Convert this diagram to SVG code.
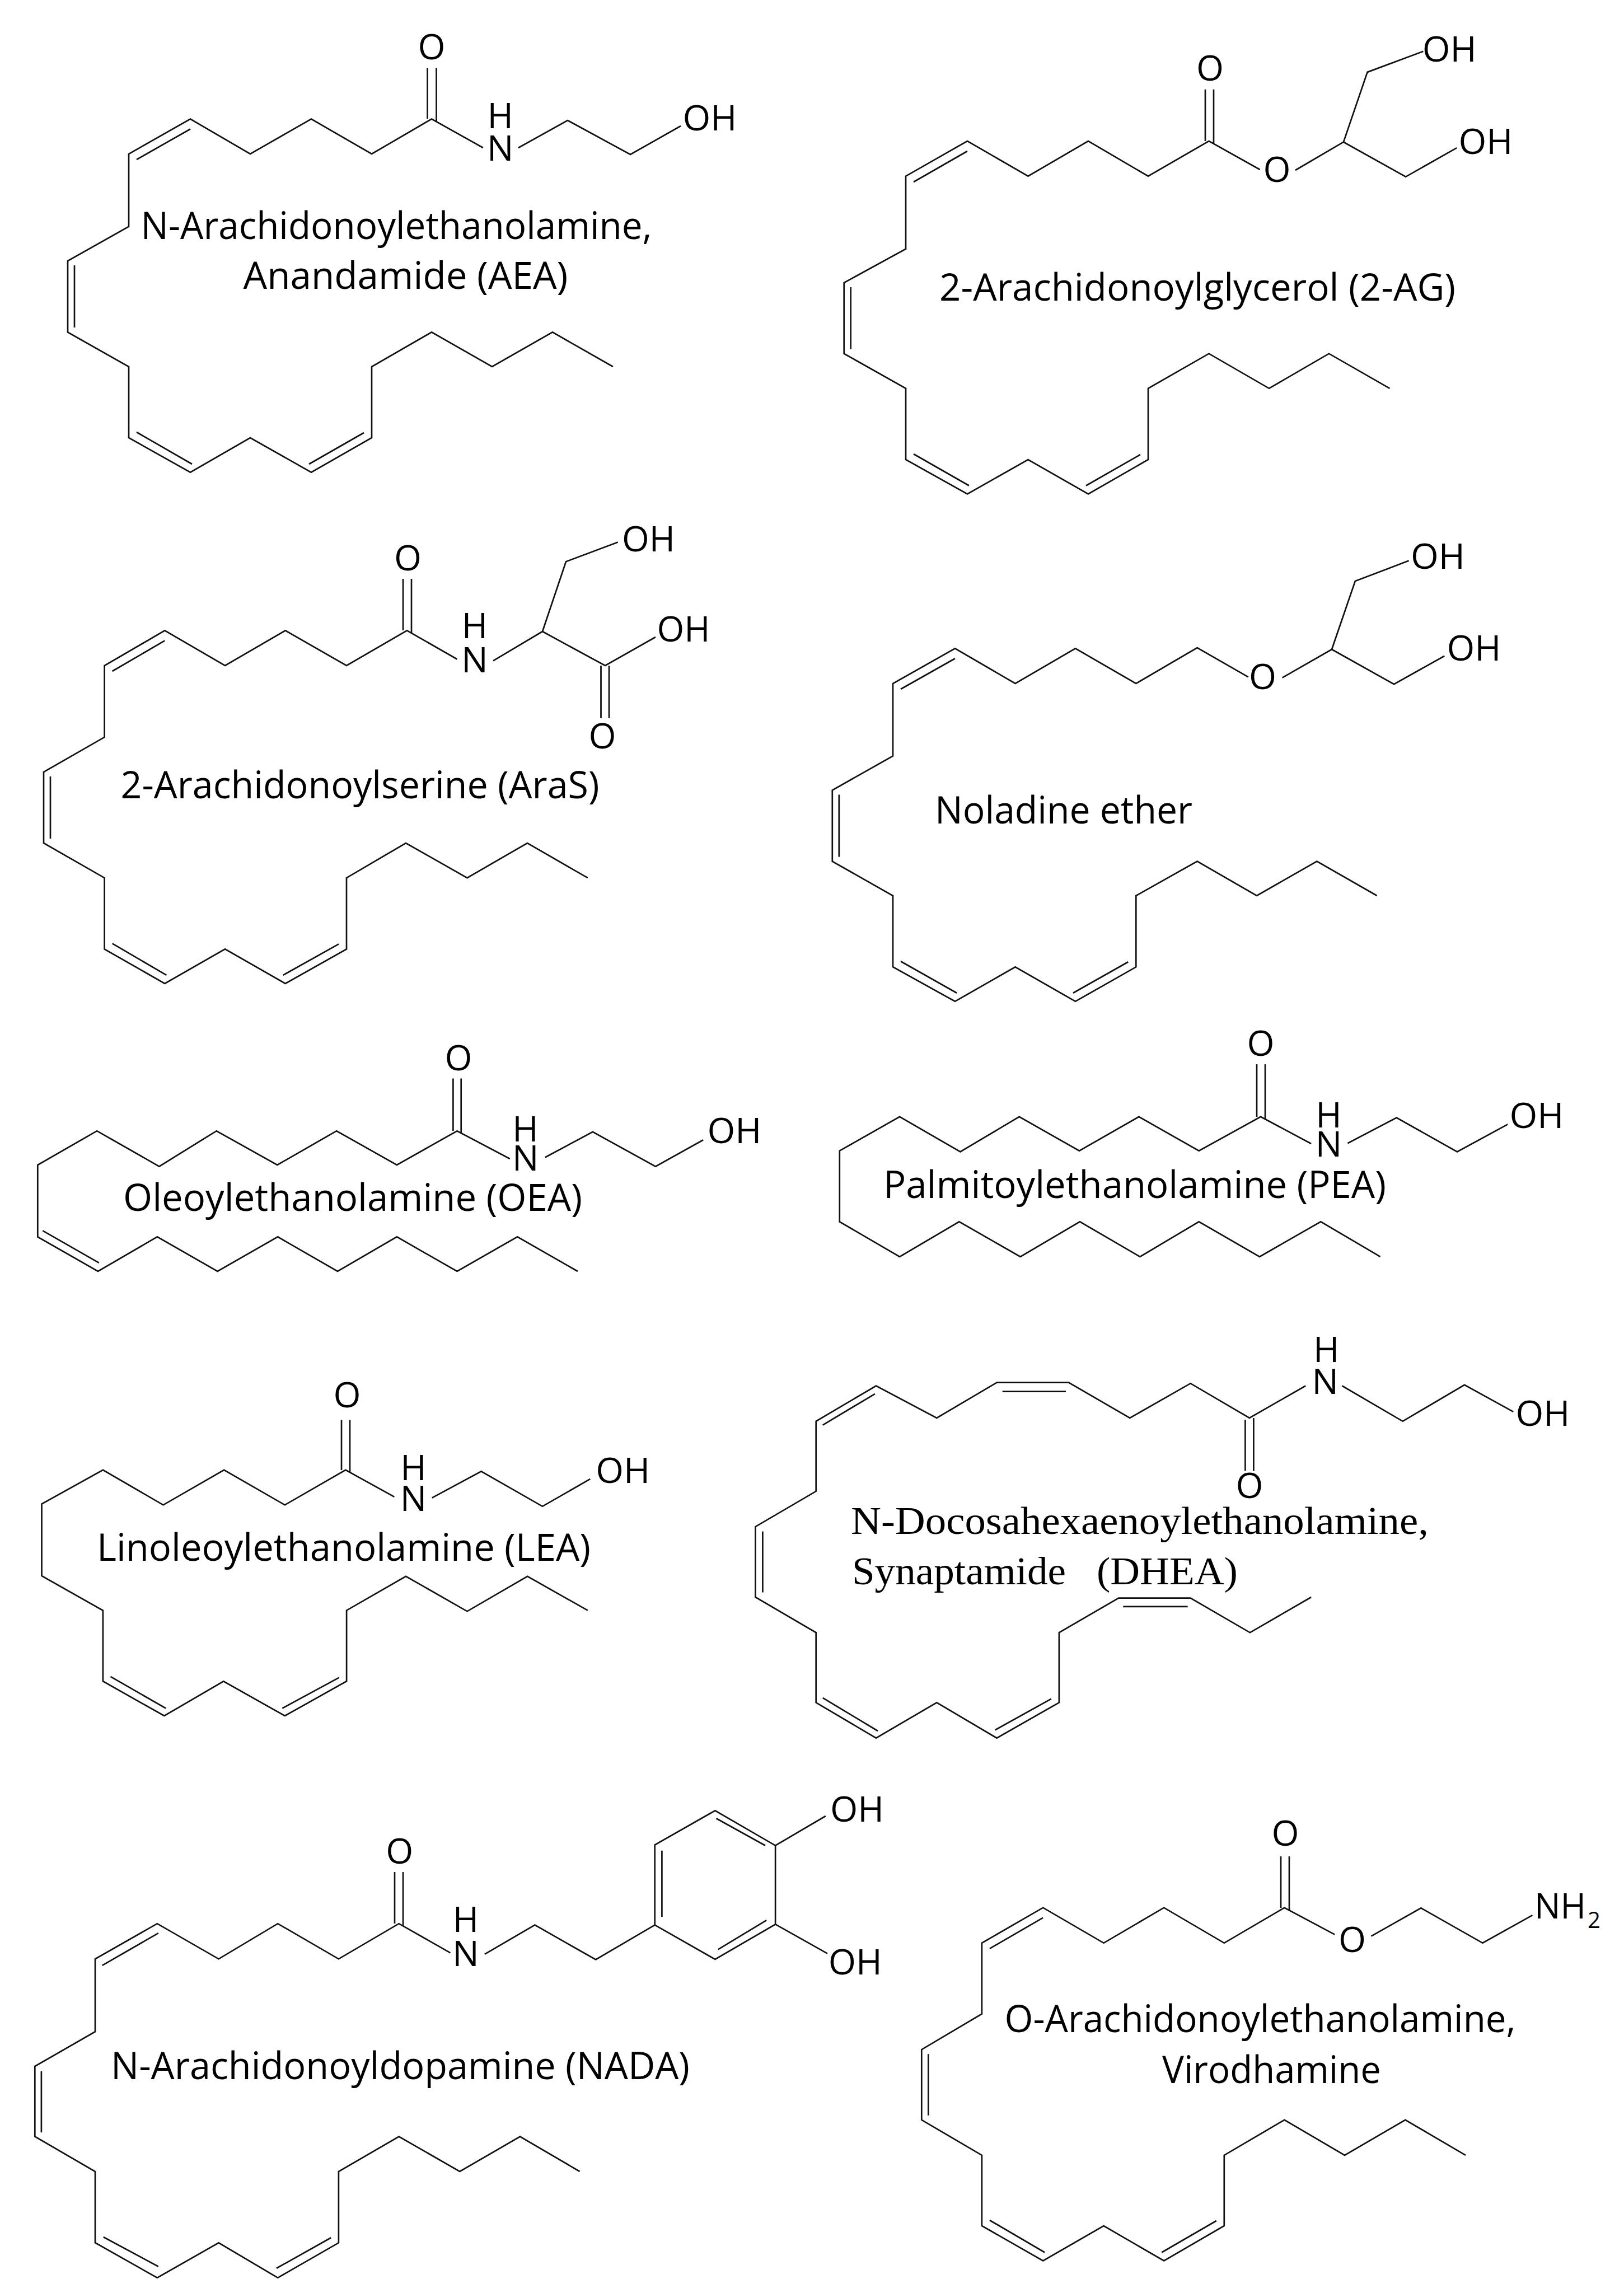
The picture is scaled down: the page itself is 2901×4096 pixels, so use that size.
<svg xmlns="http://www.w3.org/2000/svg" width="2901" height="4096" viewBox="0 0 2901 4096">
<style>
polyline,line{fill:none;stroke:#111;stroke-width:2.7;stroke-linejoin:miter;stroke-linecap:butt}
text{font-family:"Open Sans","Noto Sans","Liberation Sans",sans-serif;fill:#000}
.a{font-size:63px}
.m{font-size:63px;text-anchor:middle}
.l{font-size:67px}
.s{font-size:40px}
.t{font-family:"Liberation Serif","Times New Roman",serif;font-size:69px;white-space:pre}
</style>
<rect width="2901" height="4096" fill="#fff"/>

<g id="aea">
<polyline points="1095,655 987,593.4 879,655 771,593.4 664,655 664,782 556,843.6 447,782 340,843.6 230,782 230,655 121,593.4 121,466 230,404.7 230,275 340,212.5 447,275 556,212.5 664,275 771,212.5 863,264"/>
<polyline points="926,264 1014,215 1126,276 1216,225"/>
<line x1="244" y1="285" x2="340" y2="230.5"/><line x1="133" y1="474" x2="133" y2="585"/><line x1="244" y1="772" x2="343" y2="829"/><line x1="552" y1="829" x2="650" y2="773"/>
<line x1="763.5" y1="212" x2="763.5" y2="121"/><line x1="779.5" y1="216" x2="779.5" y2="121"/>
<text class="m" x="771" y="105.7">O</text><text class="m" x="893.7" y="229.3">H</text><text class="m" x="893.7" y="287.4">N</text>
<text class="a" x="1219.5" y="233.4" textLength="97" lengthAdjust="spacingAndGlyphs">OH</text>
<text class="l" x="251.5" y="426.7" textLength="913" lengthAdjust="spacingAndGlyphs">N-Arachidonoylethanolamine,</text>
<text class="l" x="434.5" y="515.6" textLength="580" lengthAdjust="spacingAndGlyphs">Anandamide (AEA)</text>
</g>

<g id="two-ag">
<polyline points="2482.5,693.8 2374,631.7 2267,693.8 2159.5,631.7 2051,693.8 2051,821 1944,882.5 1836.5,821 1728,882.5 1618,821 1618,693.8 1507.7,631.7 1507.7,505 1618,444.7 1618,314.7 1728,252 1836.5,314.7 1944,252 2051,314.7 2159.5,252 2250.7,303"/>
<polyline points="2314,304 2400,253.7 2442.6,128.9 2542.4,91.7"/>
<polyline points="2400,253.7 2511,315.8 2602.2,264.2"/>
<line x1="1632" y1="325" x2="1728" y2="270"/><line x1="1519.7" y1="513" x2="1519.7" y2="623.7"/><line x1="1632" y1="811" x2="1731" y2="867.5"/><line x1="1940" y1="867.5" x2="2037" y2="812"/>
<line x1="2153" y1="252" x2="2153" y2="159.7"/><line x1="2168" y1="256" x2="2168" y2="159.7"/>
<text class="m" x="2161.4" y="144">O</text><text class="m" x="2281" y="325">O</text>
<text class="a" x="2540.8" y="110.3" textLength="97" lengthAdjust="spacingAndGlyphs">OH</text>
<text class="a" x="2605.5" y="274.6" textLength="97" lengthAdjust="spacingAndGlyphs">OH</text>
<text class="l" x="1678.1" y="537" textLength="922" lengthAdjust="spacingAndGlyphs">2-Arachidonoylglycerol (2-AG)</text>
</g>

<g id="aras">
<polyline points="1049.8,1568.2 942,1506 834.5,1568.2 725,1506 619,1568.2 619,1695.4 509.7,1756.9 402,1695.4 294.3,1756.9 186.6,1695.4 186.6,1568.2 78,1506 78,1379 186.6,1316.8 186.6,1189 294.3,1126.4 402,1189 509.7,1126.4 619,1189 727,1126.4 816.5,1177.5"/>
<polyline points="881,1180.4 969,1128 1011,1003.3 1103.7,968.5"/>
<polyline points="969,1128 1081,1189 1171,1138"/>
<line x1="200.6" y1="1199" x2="294.3" y2="1144.4"/><line x1="90" y1="1387" x2="90" y2="1498"/><line x1="200.6" y1="1685.4" x2="297.3" y2="1741.9"/><line x1="505.7" y1="1741.9" x2="605" y2="1686.4"/>
<line x1="720" y1="1126" x2="720" y2="1034"/><line x1="735" y1="1130" x2="735" y2="1034"/>
<line x1="1073.5" y1="1189" x2="1073.5" y2="1283"/><line x1="1088" y1="1189" x2="1088" y2="1283"/>
<text class="m" x="728.6" y="1019">O</text><text class="m" x="848" y="1139.7">H</text><text class="m" x="848" y="1200.7">N</text><text class="m" x="1076" y="1337">O</text>
<text class="a" x="1110.9" y="984.7" textLength="95" lengthAdjust="spacingAndGlyphs">OH</text>
<text class="a" x="1173.5" y="1145.5" textLength="95" lengthAdjust="spacingAndGlyphs">OH</text>
<text class="l" x="215.5" y="1426" textLength="855" lengthAdjust="spacingAndGlyphs">2-Arachidonoylserine (AraS)</text>
</g>

<g id="noladine">
<polyline points="2459.7,1600 2352.4,1538.6 2245,1600 2138.6,1538.6 2029.3,1600 2029.3,1727.3 1921,1788.8 1813.6,1727.3 1706,1788.8 1595,1727.3 1595,1600 1486.8,1538.6 1486.8,1411.5 1595,1350.5 1595,1221 1706,1158.3 1813.6,1221 1921,1158.3 2029.3,1221 2138.6,1157.1 2229.8,1209.4"/>
<polyline points="2290.6,1210.6 2379,1160 2420.8,1038.1 2516.7,1001.6"/>
<polyline points="2379,1160 2490.1,1222.2 2580.3,1171.7"/>
<line x1="1609" y1="1231" x2="1706" y2="1176.3"/><line x1="1498.8" y1="1419.5" x2="1498.8" y2="1530.6"/><line x1="1609" y1="1717.3" x2="1709" y2="1773.8"/><line x1="1917" y1="1773.8" x2="2015.3" y2="1718.3"/>
<text class="m" x="2255.4" y="1230.9">O</text>
<text class="a" x="2519.9" y="1016" textLength="97" lengthAdjust="spacingAndGlyphs">OH</text>
<text class="a" x="2584.5" y="1180.4" textLength="97" lengthAdjust="spacingAndGlyphs">OH</text>
<text class="l" x="1670" y="1470.7" textLength="460" lengthAdjust="spacingAndGlyphs">Noladine ether</text>
</g>

<g id="oea">
<polyline points="1031.9,2271 924.2,2209.4 816.5,2271 708.9,2209.4 603,2271 496.2,2209.4 388.5,2271 280.9,2209.4 175,2271 67.3,2209.4 67.3,2081 173.2,2020.2 284.4,2083.6 386.7,2020.2 495.3,2081 601.2,2020.2 708.9,2081 816.5,2020.2 910.8,2070"/>
<polyline points="973.6,2067.5 1058.8,2021.9 1171,2083.6 1256.2,2036.3"/>
<line x1="76.3" y1="2198.4" x2="176.8" y2="2255.9"/>
<line x1="809.4" y1="2020" x2="809.4" y2="1926.5"/><line x1="823.7" y1="2024" x2="823.7" y2="1926.5"/>
<text class="m" x="819" y="1912.1">O</text><text class="m" x="938.6" y="2038.8">H</text><text class="m" x="938.6" y="2091.2">N</text>
<text class="a" x="1263.5" y="2042.2" textLength="97" lengthAdjust="spacingAndGlyphs">OH</text>
<text class="l" x="220" y="2163" textLength="820" lengthAdjust="spacingAndGlyphs">Oleoylethanolamine (OEA)</text>
</g>

<g id="pea">
<polyline points="2465.6,2244.9 2359.3,2182.4 2250,2244.9 2141.7,2182.4 2036.4,2244.9 1929,2182.4 1822.7,2244.9 1713.4,2182.4 1607.1,2244.9 1499.8,2182.4 1499.8,2055.7 1607.1,1994.9 1715.4,2057.4 1820.7,1994.9 1928,2055.7 2034.4,1994.9 2141.7,2055.7 2252,1994.9 2342.2,2043"/>
<polyline points="2407.4,2042.2 2494.7,1996.6 2603,2057.4 2693.3,2008.4"/>
<line x1="2245" y1="1995" x2="2245" y2="1901.1"/><line x1="2260" y1="1999" x2="2260" y2="1901.1"/>
<text class="m" x="2252" y="1885.9">O</text><text class="m" x="2373.4" y="2013.5">H</text><text class="m" x="2373.4" y="2065.8">N</text>
<text class="a" x="2696.5" y="2015.2" textLength="97" lengthAdjust="spacingAndGlyphs">OH</text>
<text class="l" x="1578" y="2140.2" textLength="898" lengthAdjust="spacingAndGlyphs">Palmitoylethanolamine (PEA)</text>
</g>

<g id="lea">
<polyline points="1049.8,2876.7 942.2,2815.8 834.5,2878.3 725,2815.8 619.1,2876.7 619.1,3003.3 508.8,3065 399.3,3003.3 293.4,3065 183.9,3003.3 183.9,2876.7 74.5,2815 74.5,2686.6 183.9,2625.8 291.6,2688.3 400.2,2625.8 508.8,2688.3 617.3,2625.8 704.4,2673.9"/>
<polyline points="771.7,2675.6 859.6,2628.3 969,2690.8 1054.3,2641.9"/>
<line x1="197.4" y1="2994.9" x2="296.1" y2="3051.5"/><line x1="504.3" y1="3051.5" x2="605.7" y2="2996.6"/>
<line x1="610" y1="2626" x2="610" y2="2536.3"/><line x1="625" y1="2630" x2="625" y2="2536.3"/>
<text class="m" x="620" y="2513.5">O</text><text class="m" x="738.5" y="2644.4">H</text><text class="m" x="738.5" y="2699.3">N</text>
<text class="a" x="1064.3" y="2648.6" textLength="97" lengthAdjust="spacingAndGlyphs">OH</text>
<text class="l" x="173" y="2788" textLength="882" lengthAdjust="spacingAndGlyphs">Linoleoylethanolamine (LEA)</text>
</g>

<g id="dhea">
<polyline points="2342.2,2853 2232.9,2916.3 2126.6,2854.7 1998.2,2854.7 1891.9,2916.3 1891.9,3041.3 1780.6,3104.7 1673.3,3041.3 1565,3104.7 1457.7,3041.3 1457.7,2916.3 1349.4,2853 1349.4,2727.2 1457.7,2663.8 1457.7,2538.8 1565,2475.5 1673.3,2532.9 1780.6,2469.6 1909,2469.6 2018.3,2532.9 2126.6,2471.2 2231.9,2532.9 2332.2,2475.5"/>
<polyline points="2397.4,2475.5 2505.7,2538.8 2616,2473.8 2703.3,2521.9"/>
<line x1="1469.7" y1="2545.6" x2="1563" y2="2489.8"/><line x1="1790.6" y1="2485.6" x2="1904" y2="2485.6"/><line x1="1362.4" y1="2735.6" x2="1362.4" y2="2844.5"/><line x1="1469.7" y1="3032.9" x2="1568" y2="3092"/><line x1="1777.6" y1="3090.3" x2="1877.9" y2="3034.6"/><line x1="2006.3" y1="2869.9" x2="2121.6" y2="2869.9"/>
<line x1="2224.4" y1="2536" x2="2224.4" y2="2627.5"/><line x1="2239.4" y1="2533" x2="2239.4" y2="2627.5"/>
<text class="m" x="2231.9" y="2675.6">O</text><text class="m" x="2369.3" y="2433.2">H</text><text class="m" x="2367.3" y="2489.8">N</text>
<text class="a" x="2707.5" y="2547.3" textLength="97" lengthAdjust="spacingAndGlyphs">OH</text>
<text class="t" x="1519.9" y="2739.8" textLength="1032" lengthAdjust="spacingAndGlyphs">N-Docosahexaenoylethanolamine,</text>
<text class="t" x="1521.9" y="2830.2" textLength="689" lengthAdjust="spacingAndGlyphs">Synaptamide   (DHEA)</text>
</g>

<g id="nada">
<polyline points="1035.6,3879 929,3816.5 821.3,3879 712.6,3816.5 604.9,3879 604.9,4006.3 496.2,4068.8 390.6,4006.3 280.8,4068.8 170,4006.3 170,3879 62.3,3816.5 62.3,3691 170,3629.1 170,3499.3 280.8,3436.2 390.6,3499.3 496.2,3436.2 604.9,3499.3 712.6,3436.2 804.4,3488.4"/>
<polyline points="865.7,3490.8 955.4,3438.6 1064.2,3500.5 1169.7,3438.6"/>
<polyline points="1169.7,3438.6 1169.7,3295.5 1277.4,3234.3 1385.1,3296.7 1385.1,3437.4 1277.4,3499.9 1169.7,3438.6"/>
<line x1="1385.1" y1="3296.7" x2="1474.8" y2="3244"/><line x1="1385.1" y1="3437.4" x2="1478" y2="3489.6"/>
<line x1="1182.4" y1="3305.8" x2="1182.4" y2="3424.1"/><line x1="1279.5" y1="3248.2" x2="1367.1" y2="3296.7"/><line x1="1282.7" y1="3482.3" x2="1369.2" y2="3430.2"/>
<line x1="182.6" y1="3510.8" x2="282.9" y2="3453.2"/><line x1="73.9" y1="3700" x2="73.9" y2="3809.2"/><line x1="184.7" y1="3996" x2="282.9" y2="4048.8"/><line x1="494" y1="4051.8" x2="591.2" y2="3997.2"/>
<line x1="705" y1="3436" x2="705" y2="3344"/><line x1="720" y1="3440" x2="720" y2="3344"/>
<text class="m" x="713.7" y="3328.9">O</text><text class="m" x="831.9" y="3451.4">H</text><text class="m" x="831.9" y="3512">N</text>
<text class="a" x="1482.9" y="3254.3" textLength="96" lengthAdjust="spacingAndGlyphs">OH</text>
<text class="a" x="1479.8" y="3527.2" textLength="96" lengthAdjust="spacingAndGlyphs">OH</text>
<text class="l" x="198" y="3714" textLength="1034" lengthAdjust="spacingAndGlyphs">N-Arachidonoyldopamine (NADA)</text>
</g>

<g id="virodhamine">
<polyline points="2618,3849.9 2510.4,3786.8 2402,3849.9 2294.4,3786.8 2186.8,3849.9 2186.8,3976 2079.2,4038.5 1971.6,3976 1863.2,4038.5 1753.9,3976 1753.9,3849.9 1646.3,3786.8 1646.3,3661.2 1753.9,3597.5 1753.9,3470.8 1863.2,3407.7 1971.6,3470.8 2079.2,3407.7 2186.8,3470.8 2294.4,3407.7 2384.2,3455.6"/>
<polyline points="2449.4,3458.7 2538.4,3408.3 2648.5,3470.8 2737.5,3421.1"/>
<line x1="1767.9" y1="3480.8" x2="1863.2" y2="3425.7"/><line x1="1658.3" y1="3669.2" x2="1658.3" y2="3778.8"/><line x1="1767.9" y1="3966" x2="1866.2" y2="4023.5"/><line x1="2075.2" y1="4023.5" x2="2172.8" y2="3967"/>
<line x1="2288" y1="3408" x2="2288" y2="3316.1"/><line x1="2303" y1="3412" x2="2303" y2="3316.1"/>
<text class="m" x="2296" y="3296.7">O</text><text class="m" x="2415.6" y="3486.6">O</text>
<text class="a" x="2741" y="3427.1" textLength="92" lengthAdjust="spacingAndGlyphs">NH</text><text class="s" x="2836" y="3443.5">2</text>
<text class="l" x="1794.5" y="3630.3" textLength="913" lengthAdjust="spacingAndGlyphs">O-Arachidonoylethanolamine,</text>
<text class="l" x="2076" y="3721.3" textLength="391" lengthAdjust="spacingAndGlyphs">Virodhamine</text>
</g>
</svg>
